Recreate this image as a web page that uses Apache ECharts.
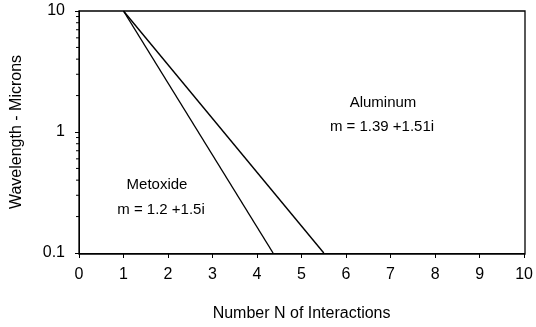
<!DOCTYPE html>
<html>
<head>
<meta charset="utf-8">
<script src="https://cdn.jsdelivr.net/npm/echarts@6/dist/echarts.min.js"></script>
<style>
  html, body { margin: 0; padding: 0; background: #fff; }
  #chart { width: 536px; height: 327px; }
</style>
</head>
<body>
<div id="chart"></div>
<script>
// data
var metoxide = [[1, 10], [4.36, 0.1]];
var aluminum = [[1, 10], [5.5, 0.1]];
var minorTicks = [0.2, 0.3, 0.4, 0.5, 0.6, 0.7, 0.8, 0.9, 2, 3, 4, 5, 6, 7, 8, 9];

var font = 'Liberation Sans, Arial, sans-serif';
var chart = echarts.init(document.getElementById('chart'));

var option = {
  animation: false,
  grid: { left: 79, right: 11, top: 11, bottom: 73 },
  xAxis: {
    type: 'value', min: 0, max: 10, interval: 1,
    name: 'Number N of Interactions', nameLocation: 'middle', nameGap: 53,
    nameTextStyle: { color: '#000', fontFamily: font, fontSize: 16 },
    axisLine: { show: true, lineStyle: { color: '#000', width: 1 } },
    axisTick: { show: true, length: 5, lineStyle: { color: '#000' } },
    axisLabel: { color: '#000', fontFamily: font, fontSize: 16, margin: 14 },
    splitLine: { show: false }
  },
  yAxis: {
    type: 'log', min: 0.1, max: 10, logBase: 10,
    name: 'Wavelength - Microns', nameLocation: 'middle', nameGap: 54,
    nameTextStyle: { color: '#000', fontFamily: font, fontSize: 16 },
    axisLine: { show: true, lineStyle: { color: '#000', width: 1 } },
    axisTick: { show: true, length: 4, lineStyle: { color: '#000' } },
    axisLabel: {
      color: '#000', fontFamily: font, fontSize: 16, margin: 14,
      formatter: function (v) { return String(+v.toPrecision(3)); }
    },
    splitLine: { show: false }
  },
  graphic: [
    { type: 'rect', shape: { x: 79, y: 11, width: 446, height: 243 }, style: { fill: 'none', stroke: '#000', lineWidth: 1.3 }, silent: true },
    { type: 'text', x: 383, y: 103, style: { text: 'Aluminum', font: '15px ' + font, fill: '#000', align: 'center', verticalAlign: 'middle' } },
    { type: 'text', x: 382, y: 127, style: { text: 'm = 1.39 +1.51i', font: '15px ' + font, fill: '#000', align: 'center', verticalAlign: 'middle' } },
    { type: 'text', x: 157, y: 185, style: { text: 'Metoxide', font: '15px ' + font, fill: '#000', align: 'center', verticalAlign: 'middle' } },
    { type: 'text', x: 161, y: 210, style: { text: 'm = 1.2 +1.5i', font: '15px ' + font, fill: '#000', align: 'center', verticalAlign: 'middle' } }
  ],
  series: [
    {
      name: 'Metoxide', type: 'line', data: metoxide, showSymbol: false,
      lineStyle: { color: '#000', width: 1.4 }
    },
    {
      name: 'Aluminum', type: 'line', data: aluminum, showSymbol: false,
      lineStyle: { color: '#000', width: 1.4 }
    },
    {
      // log minor ticks on the y axis, placed through the axis scale
      name: 'minor', type: 'custom', silent: true,
      data: minorTicks.map(function (v) { return [0, v]; }),
      clip: false,
      renderItem: function (params, api) {
        var p = api.coord([0, api.value(1)]);
        return {
          type: 'line',
          shape: { x1: p[0] - 3, y1: p[1], x2: p[0], y2: p[1] },
          style: { stroke: '#000', lineWidth: 1 }
        };
      }
    }
  ]
};
chart.setOption(option);
</script>
</body>
</html>
